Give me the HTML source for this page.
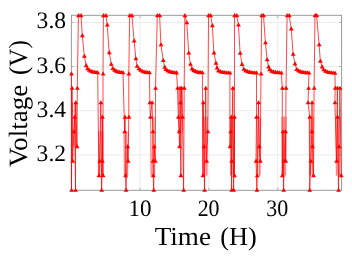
<!DOCTYPE html>
<html><head><meta charset="utf-8"><style>
html,body{margin:0;padding:0;background:#fff;width:352px;height:259px;overflow:hidden}
svg{display:block;will-change:transform}
text{font-family:"Liberation Serif",serif;fill:#000;text-rendering:geometricPrecision}
</style></head><body>
<svg width="352" height="259" viewBox="0 0 352 259">
<rect width="352" height="259" fill="#fff"/>
<g stroke="#e6e6e6" stroke-width="0.8"><line x1="71.4" y1="22.45" x2="341.6" y2="22.45"/><line x1="71.4" y1="66.6" x2="341.6" y2="66.6"/><line x1="71.4" y1="110.75" x2="341.6" y2="110.75"/><line x1="71.4" y1="154.9" x2="341.6" y2="154.9"/><line x1="140.0" y1="15.33" x2="140.0" y2="190.3"/><line x1="208.9" y1="15.33" x2="208.9" y2="190.3"/><line x1="277.8" y1="15.33" x2="277.8" y2="190.3"/></g>
<g stroke="#9a9a9a" stroke-width="0.7"><line x1="71.4" y1="22.45" x2="74.0" y2="22.45"/><line x1="341.6" y1="22.45" x2="339.0" y2="22.45"/><line x1="71.4" y1="66.6" x2="74.0" y2="66.6"/><line x1="341.6" y1="66.6" x2="339.0" y2="66.6"/><line x1="71.4" y1="110.75" x2="74.0" y2="110.75"/><line x1="341.6" y1="110.75" x2="339.0" y2="110.75"/><line x1="71.4" y1="154.9" x2="74.0" y2="154.9"/><line x1="341.6" y1="154.9" x2="339.0" y2="154.9"/><line x1="140.0" y1="190.3" x2="140.0" y2="187.70000000000002"/><line x1="140.0" y1="15.33" x2="140.0" y2="17.93"/><line x1="208.9" y1="190.3" x2="208.9" y2="187.70000000000002"/><line x1="208.9" y1="15.33" x2="208.9" y2="17.93"/><line x1="277.8" y1="190.3" x2="277.8" y2="187.70000000000002"/><line x1="277.8" y1="15.33" x2="277.8" y2="17.93"/></g>
<rect x="71.4" y="15.33" width="270.20000000000005" height="174.97" fill="none" stroke="#9a9a9a" stroke-width="1"/>
<polyline points="71.4,73.6 71.5,189.9 72,87.9 72.6,160.8 73.8,131.4 74.6,116.8 75.5,189.9 75.7,102.4 77,146.3 77.3,87.9 78.4,15.3 81,15.3 82.3,35.3 84.3,56 86.1,65.3 87.5,68.4 89.2,69.92 90.9,70.92 92.6,71.57 94.3,72 96,72.27 97.7,72.46 98.9,175.3 99.6,160.8 100.8,102.4 101.6,189.9 102.3,160.8 102.4,116.8 103,175.3 103,73.6 103.4,15.3 105.9,15.3 107.2,24.7 109.2,52.3 111.2,63.9 112.7,68.2 114.42,69.81 116.13,70.85 117.85,71.53 119.57,71.97 121.28,72.26 123,72.45 124.6,131.4 125,116.8 125.5,175.3 126,189.9 127.6,146.3 128,160.8 128.8,116.8 128.8,73.6 129.7,15.3 131.9,15.3 134.1,40.6 135.8,58.4 137,65.9 138.79,68.38 140.57,69.97 142.36,70.99 144.14,71.64 145.93,72.06 147.71,72.33 149.5,72.5 149.8,102.4 150.4,116.8 152,102.4 152.9,131.4 152.9,160.8 153.2,175.3 153.7,189.9 154.2,146.3 155.2,160.8 155.5,87.9 157.3,15.3 159.6,15.3 160.9,44.5 163.2,60.2 164.6,66.8 165.8,69.1 167.58,70.43 169.37,71.28 171.15,71.83 172.93,72.18 174.72,72.4 176.5,72.55 177.5,87.9 178.3,116.8 179.1,131.4 179.5,146.3 180,87.9 180.3,102.4 180.8,175.3 181.5,87.9 182.4,116.8 183.6,189.9 184.2,87.9 184.8,15.3 186.8,22.5 188.7,52.7 190.4,63.9 191.9,68.6 193.65,70.09 195.4,71.05 197.15,71.67 198.9,72.07 200.65,72.33 202.4,72.5 202.9,175.3 203.2,102.4 204,146.3 204.5,189.9 205.7,87.9 206.5,160.8 207.8,131.4 208.5,15.3 210.6,15.3 212.3,25.3 213.9,52.6 215.9,62.8 217,67.6 218.4,70.4 220.32,71.31 222.23,71.88 224.15,72.23 226.07,72.45 227.98,72.58 229.9,72.66 230,146.3 230.6,131.4 231.1,116.8 231.6,189.9 231.6,160.8 232.8,87.9 233.6,189.9 234.4,116.8 234.4,175.3 234.5,15.3 236.7,15.3 238.4,24.7 240.1,53 242,64.1 243.8,69 245.61,70.39 247.43,71.27 249.24,71.83 251.06,72.18 252.87,72.41 254.69,72.55 256.5,72.64 256.5,116.8 256,160.8 256.9,189.9 257.2,175.3 258.5,102.4 259.3,146.3 260.2,160.8 261,73.6 261.7,15.3 263.5,15.3 265.4,42.5 267.1,59.5 268.5,66.6 269.5,69.5 271.47,70.78 273.43,71.57 275.4,72.05 277.37,72.34 279.33,72.52 281.3,72.63 282.3,87.9 282.3,175.3 283,131.4 283.6,189.9 284,160.8 285.5,131.4 285.6,160.8 286,87.9 287.1,15.3 289.2,15.3 291.2,28.6 293.1,53.9 294.9,63.6 296.6,69.2 298.36,70.48 300.11,71.3 301.87,71.84 303.63,72.18 305.39,72.4 307.14,72.54 308.9,72.63 308.5,87.9 308,102.4 309.7,116.8 309.7,189.9 310.8,160.8 311.8,131.4 312,102.4 312.5,146.3 313.5,175.3 314.1,87.9 315,15.3 316.6,15.3 319.1,44.4 320.3,60.8 322,66.6 323.5,69.5 325.4,70.82 327.3,71.65 329.2,72.16 331.1,72.48 333,72.67 334.9,72.8 335.2,87.9 334.9,102.4 336.6,160.8 337.4,87.9 337.4,116.8 338.5,189.9 339,146.3 339.9,87.9 341.2,175.3" fill="none" stroke="#ff0000" stroke-width="0.8" stroke-opacity="0.9" stroke-linejoin="round"/>
<path d="M72.55 102.40 L73.05 146.30 L74.15 146.30 L74.65 102.40 L75.75 102.40 L76.25 146.30M98.40 131.40 L98.90 175.30 L99.70 175.30 L100.20 131.40 L101.00 131.40 L101.50 175.30 L102.30 175.30 L102.80 131.40M123.89 131.40 L124.39 175.30 L125.16 175.30 L125.66 131.40 L126.44 131.40 L126.94 175.30 L127.71 175.30 L128.21 131.40M150.45 116.80 L150.95 175.30 L151.85 175.30 L152.35 116.80 L153.25 116.80 L153.75 175.30 L154.65 175.30 L155.15 116.80M178.35 87.90 L178.85 131.40 L180.35 131.40 L180.85 87.90 L182.35 87.90 L182.85 131.40M202.94 116.80 L203.44 175.30 L204.31 175.30 L204.81 116.80 L205.69 116.80 L206.19 175.30 L207.06 175.30 L207.56 116.80M230.10 116.80 L230.60 175.30 L231.20 175.30 L231.70 116.80 L232.30 116.80 L232.80 175.30 L233.40 175.30 L233.90 116.80M256.64 116.80 L257.14 175.30 L257.81 175.30 L258.31 116.80 L258.99 116.80 L259.49 175.30 L260.16 175.30 L260.66 116.80M281.80 116.80 L282.30 175.30 L283.10 175.30 L283.60 116.80 L284.40 116.80 L284.90 175.30 L285.70 175.30 L286.20 116.80M309.18 116.80 L309.68 175.30 L310.43 175.30 L310.93 116.80 L311.68 116.80 L312.18 175.30 L312.93 175.30 L313.43 116.80M335.80 116.80 L336.30 175.30 L337.10 175.30 L337.60 116.80 L338.40 116.80 L338.90 175.30 L339.70 175.30 L340.20 116.80" fill="none" stroke="#ff0000" stroke-width="0.8" stroke-opacity="0.6"/>
<path d="M71.5 71.35l2.4 4.1h-4.8zM71.6 187.65l2.4 4.1h-4.8zM72.1 85.65l2.4 4.1h-4.8zM72.7 158.55l2.4 4.1h-4.8zM73.9 129.15l2.4 4.1h-4.8zM74.7 114.55l2.4 4.1h-4.8zM75.6 187.65l2.4 4.1h-4.8zM75.8 100.15l2.4 4.1h-4.8zM77.1 144.05l2.4 4.1h-4.8zM77.4 85.65l2.4 4.1h-4.8zM78.5 13.05l2.4 4.1h-4.8zM81.1 13.05l2.4 4.1h-4.8zM82.4 33.05l2.4 4.1h-4.8zM84.4 53.75l2.4 4.1h-4.8zM86.2 63.05l2.4 4.1h-4.8zM87.6 66.15l2.4 4.1h-4.8zM89.3 67.67l2.4 4.1h-4.8zM91 68.67l2.4 4.1h-4.8zM92.7 69.32l2.4 4.1h-4.8zM94.4 69.75l2.4 4.1h-4.8zM96.1 70.02l2.4 4.1h-4.8zM97.8 70.21l2.4 4.1h-4.8zM99 173.05l2.4 4.1h-4.8zM99.7 158.55l2.4 4.1h-4.8zM100.9 100.15l2.4 4.1h-4.8zM101.7 187.65l2.4 4.1h-4.8zM102.4 158.55l2.4 4.1h-4.8zM102.5 114.55l2.4 4.1h-4.8zM103.1 173.05l2.4 4.1h-4.8zM103.1 71.35l2.4 4.1h-4.8zM103.5 13.05l2.4 4.1h-4.8zM106 13.05l2.4 4.1h-4.8zM107.3 22.45l2.4 4.1h-4.8zM109.3 50.05l2.4 4.1h-4.8zM111.3 61.65l2.4 4.1h-4.8zM112.8 65.95l2.4 4.1h-4.8zM114.52 67.56l2.4 4.1h-4.8zM116.23 68.6l2.4 4.1h-4.8zM117.95 69.28l2.4 4.1h-4.8zM119.67 69.72l2.4 4.1h-4.8zM121.38 70.01l2.4 4.1h-4.8zM123.1 70.2l2.4 4.1h-4.8zM124.7 129.15l2.4 4.1h-4.8zM125.1 114.55l2.4 4.1h-4.8zM125.6 173.05l2.4 4.1h-4.8zM126.1 187.65l2.4 4.1h-4.8zM127.7 144.05l2.4 4.1h-4.8zM128.1 158.55l2.4 4.1h-4.8zM128.9 114.55l2.4 4.1h-4.8zM128.9 71.35l2.4 4.1h-4.8zM129.8 13.05l2.4 4.1h-4.8zM132 13.05l2.4 4.1h-4.8zM134.2 38.35l2.4 4.1h-4.8zM135.9 56.15l2.4 4.1h-4.8zM137.1 63.65l2.4 4.1h-4.8zM138.89 66.13l2.4 4.1h-4.8zM140.67 67.72l2.4 4.1h-4.8zM142.46 68.74l2.4 4.1h-4.8zM144.24 69.39l2.4 4.1h-4.8zM146.03 69.81l2.4 4.1h-4.8zM147.81 70.08l2.4 4.1h-4.8zM149.6 70.25l2.4 4.1h-4.8zM149.9 100.15l2.4 4.1h-4.8zM150.5 114.55l2.4 4.1h-4.8zM152.1 100.15l2.4 4.1h-4.8zM153 129.15l2.4 4.1h-4.8zM153 158.55l2.4 4.1h-4.8zM153.3 173.05l2.4 4.1h-4.8zM153.8 187.65l2.4 4.1h-4.8zM154.3 144.05l2.4 4.1h-4.8zM155.3 158.55l2.4 4.1h-4.8zM155.6 85.65l2.4 4.1h-4.8zM157.4 13.05l2.4 4.1h-4.8zM159.7 13.05l2.4 4.1h-4.8zM161 42.25l2.4 4.1h-4.8zM163.3 57.95l2.4 4.1h-4.8zM164.7 64.55l2.4 4.1h-4.8zM165.9 66.85l2.4 4.1h-4.8zM167.68 68.18l2.4 4.1h-4.8zM169.47 69.03l2.4 4.1h-4.8zM171.25 69.58l2.4 4.1h-4.8zM173.03 69.93l2.4 4.1h-4.8zM174.82 70.15l2.4 4.1h-4.8zM176.6 70.3l2.4 4.1h-4.8zM177.6 85.65l2.4 4.1h-4.8zM178.4 114.55l2.4 4.1h-4.8zM179.2 129.15l2.4 4.1h-4.8zM179.6 144.05l2.4 4.1h-4.8zM180.1 85.65l2.4 4.1h-4.8zM180.4 100.15l2.4 4.1h-4.8zM180.9 173.05l2.4 4.1h-4.8zM181.6 85.65l2.4 4.1h-4.8zM182.5 114.55l2.4 4.1h-4.8zM183.7 187.65l2.4 4.1h-4.8zM184.3 85.65l2.4 4.1h-4.8zM184.9 13.05l2.4 4.1h-4.8zM186.9 20.25l2.4 4.1h-4.8zM188.8 50.45l2.4 4.1h-4.8zM190.5 61.65l2.4 4.1h-4.8zM192 66.35l2.4 4.1h-4.8zM193.75 67.84l2.4 4.1h-4.8zM195.5 68.8l2.4 4.1h-4.8zM197.25 69.42l2.4 4.1h-4.8zM199 69.82l2.4 4.1h-4.8zM200.75 70.08l2.4 4.1h-4.8zM202.5 70.25l2.4 4.1h-4.8zM203 173.05l2.4 4.1h-4.8zM203.3 100.15l2.4 4.1h-4.8zM204.1 144.05l2.4 4.1h-4.8zM204.6 187.65l2.4 4.1h-4.8zM205.8 85.65l2.4 4.1h-4.8zM206.6 158.55l2.4 4.1h-4.8zM207.9 129.15l2.4 4.1h-4.8zM208.6 13.05l2.4 4.1h-4.8zM210.7 13.05l2.4 4.1h-4.8zM212.4 23.05l2.4 4.1h-4.8zM214 50.35l2.4 4.1h-4.8zM216 60.55l2.4 4.1h-4.8zM217.1 65.35l2.4 4.1h-4.8zM218.5 68.15l2.4 4.1h-4.8zM220.42 69.06l2.4 4.1h-4.8zM222.33 69.63l2.4 4.1h-4.8zM224.25 69.98l2.4 4.1h-4.8zM226.17 70.2l2.4 4.1h-4.8zM228.08 70.33l2.4 4.1h-4.8zM230 70.41l2.4 4.1h-4.8zM230.1 144.05l2.4 4.1h-4.8zM230.7 129.15l2.4 4.1h-4.8zM231.2 114.55l2.4 4.1h-4.8zM231.7 187.65l2.4 4.1h-4.8zM231.7 158.55l2.4 4.1h-4.8zM232.9 85.65l2.4 4.1h-4.8zM233.7 187.65l2.4 4.1h-4.8zM234.5 114.55l2.4 4.1h-4.8zM234.5 173.05l2.4 4.1h-4.8zM234.6 13.05l2.4 4.1h-4.8zM236.8 13.05l2.4 4.1h-4.8zM238.5 22.45l2.4 4.1h-4.8zM240.2 50.75l2.4 4.1h-4.8zM242.1 61.85l2.4 4.1h-4.8zM243.9 66.75l2.4 4.1h-4.8zM245.71 68.14l2.4 4.1h-4.8zM247.53 69.02l2.4 4.1h-4.8zM249.34 69.58l2.4 4.1h-4.8zM251.16 69.93l2.4 4.1h-4.8zM252.97 70.16l2.4 4.1h-4.8zM254.79 70.3l2.4 4.1h-4.8zM256.6 70.39l2.4 4.1h-4.8zM256.6 114.55l2.4 4.1h-4.8zM256.1 158.55l2.4 4.1h-4.8zM257 187.65l2.4 4.1h-4.8zM257.3 173.05l2.4 4.1h-4.8zM258.6 100.15l2.4 4.1h-4.8zM259.4 144.05l2.4 4.1h-4.8zM260.3 158.55l2.4 4.1h-4.8zM261.1 71.35l2.4 4.1h-4.8zM261.8 13.05l2.4 4.1h-4.8zM263.6 13.05l2.4 4.1h-4.8zM265.5 40.25l2.4 4.1h-4.8zM267.2 57.25l2.4 4.1h-4.8zM268.6 64.35l2.4 4.1h-4.8zM269.6 67.25l2.4 4.1h-4.8zM271.57 68.53l2.4 4.1h-4.8zM273.53 69.32l2.4 4.1h-4.8zM275.5 69.8l2.4 4.1h-4.8zM277.47 70.09l2.4 4.1h-4.8zM279.43 70.27l2.4 4.1h-4.8zM281.4 70.38l2.4 4.1h-4.8zM282.4 85.65l2.4 4.1h-4.8zM282.4 173.05l2.4 4.1h-4.8zM283.1 129.15l2.4 4.1h-4.8zM283.7 187.65l2.4 4.1h-4.8zM284.1 158.55l2.4 4.1h-4.8zM285.6 129.15l2.4 4.1h-4.8zM285.7 158.55l2.4 4.1h-4.8zM286.1 85.65l2.4 4.1h-4.8zM287.2 13.05l2.4 4.1h-4.8zM289.3 13.05l2.4 4.1h-4.8zM291.3 26.35l2.4 4.1h-4.8zM293.2 51.65l2.4 4.1h-4.8zM295 61.35l2.4 4.1h-4.8zM296.7 66.95l2.4 4.1h-4.8zM298.46 68.23l2.4 4.1h-4.8zM300.21 69.05l2.4 4.1h-4.8zM301.97 69.59l2.4 4.1h-4.8zM303.73 69.93l2.4 4.1h-4.8zM305.49 70.15l2.4 4.1h-4.8zM307.24 70.29l2.4 4.1h-4.8zM309 70.38l2.4 4.1h-4.8zM308.6 85.65l2.4 4.1h-4.8zM308.1 100.15l2.4 4.1h-4.8zM309.8 114.55l2.4 4.1h-4.8zM309.8 187.65l2.4 4.1h-4.8zM310.9 158.55l2.4 4.1h-4.8zM311.9 129.15l2.4 4.1h-4.8zM312.1 100.15l2.4 4.1h-4.8zM312.6 144.05l2.4 4.1h-4.8zM313.6 173.05l2.4 4.1h-4.8zM314.2 85.65l2.4 4.1h-4.8zM315.1 13.05l2.4 4.1h-4.8zM316.7 13.05l2.4 4.1h-4.8zM319.2 42.15l2.4 4.1h-4.8zM320.4 58.55l2.4 4.1h-4.8zM322.1 64.35l2.4 4.1h-4.8zM323.6 67.25l2.4 4.1h-4.8zM325.5 68.57l2.4 4.1h-4.8zM327.4 69.4l2.4 4.1h-4.8zM329.3 69.91l2.4 4.1h-4.8zM331.2 70.23l2.4 4.1h-4.8zM333.1 70.42l2.4 4.1h-4.8zM335 70.55l2.4 4.1h-4.8zM335.3 85.65l2.4 4.1h-4.8zM335 100.15l2.4 4.1h-4.8zM336.7 158.55l2.4 4.1h-4.8zM337.5 85.65l2.4 4.1h-4.8zM337.5 114.55l2.4 4.1h-4.8zM338.6 187.65l2.4 4.1h-4.8zM339.1 144.05l2.4 4.1h-4.8zM340 85.65l2.4 4.1h-4.8zM341.3 173.05l2.4 4.1h-4.8z" fill="#ff0000"/>
<g font-size="23.6"><text x="66.1" y="28.45" text-anchor="end" textLength="29.5" lengthAdjust="spacingAndGlyphs">3.8</text><text x="66.1" y="72.6" text-anchor="end" textLength="29.5" lengthAdjust="spacingAndGlyphs">3.6</text><text x="66.1" y="116.75" text-anchor="end" textLength="29.5" lengthAdjust="spacingAndGlyphs">3.4</text><text x="66.1" y="160.9" text-anchor="end" textLength="29.5" lengthAdjust="spacingAndGlyphs">3.2</text><text x="139.95" y="215.7" text-anchor="middle" textLength="23.0" lengthAdjust="spacingAndGlyphs">10</text><text x="208.6" y="215.7" text-anchor="middle" textLength="21.9" lengthAdjust="spacingAndGlyphs">20</text><text x="277.2" y="215.7" text-anchor="middle" textLength="22.0" lengthAdjust="spacingAndGlyphs">30</text></g>
<text font-size="26.1" x="154.7" y="244.9" textLength="56.3" lengthAdjust="spacingAndGlyphs">Time</text><text font-size="26.1" x="220.35" y="244.9" textLength="36.4" lengthAdjust="spacingAndGlyphs">(H)</text>
<text font-size="26.4" transform="translate(26.5,167.0) rotate(-90)" x="0" y="0" textLength="82.4" lengthAdjust="spacingAndGlyphs">Voltage</text>
<text font-size="26.4" transform="translate(26.5,75.0) rotate(-90)" x="0" y="0" textLength="34.9" lengthAdjust="spacingAndGlyphs">(V)</text>
</svg>
</body></html>
